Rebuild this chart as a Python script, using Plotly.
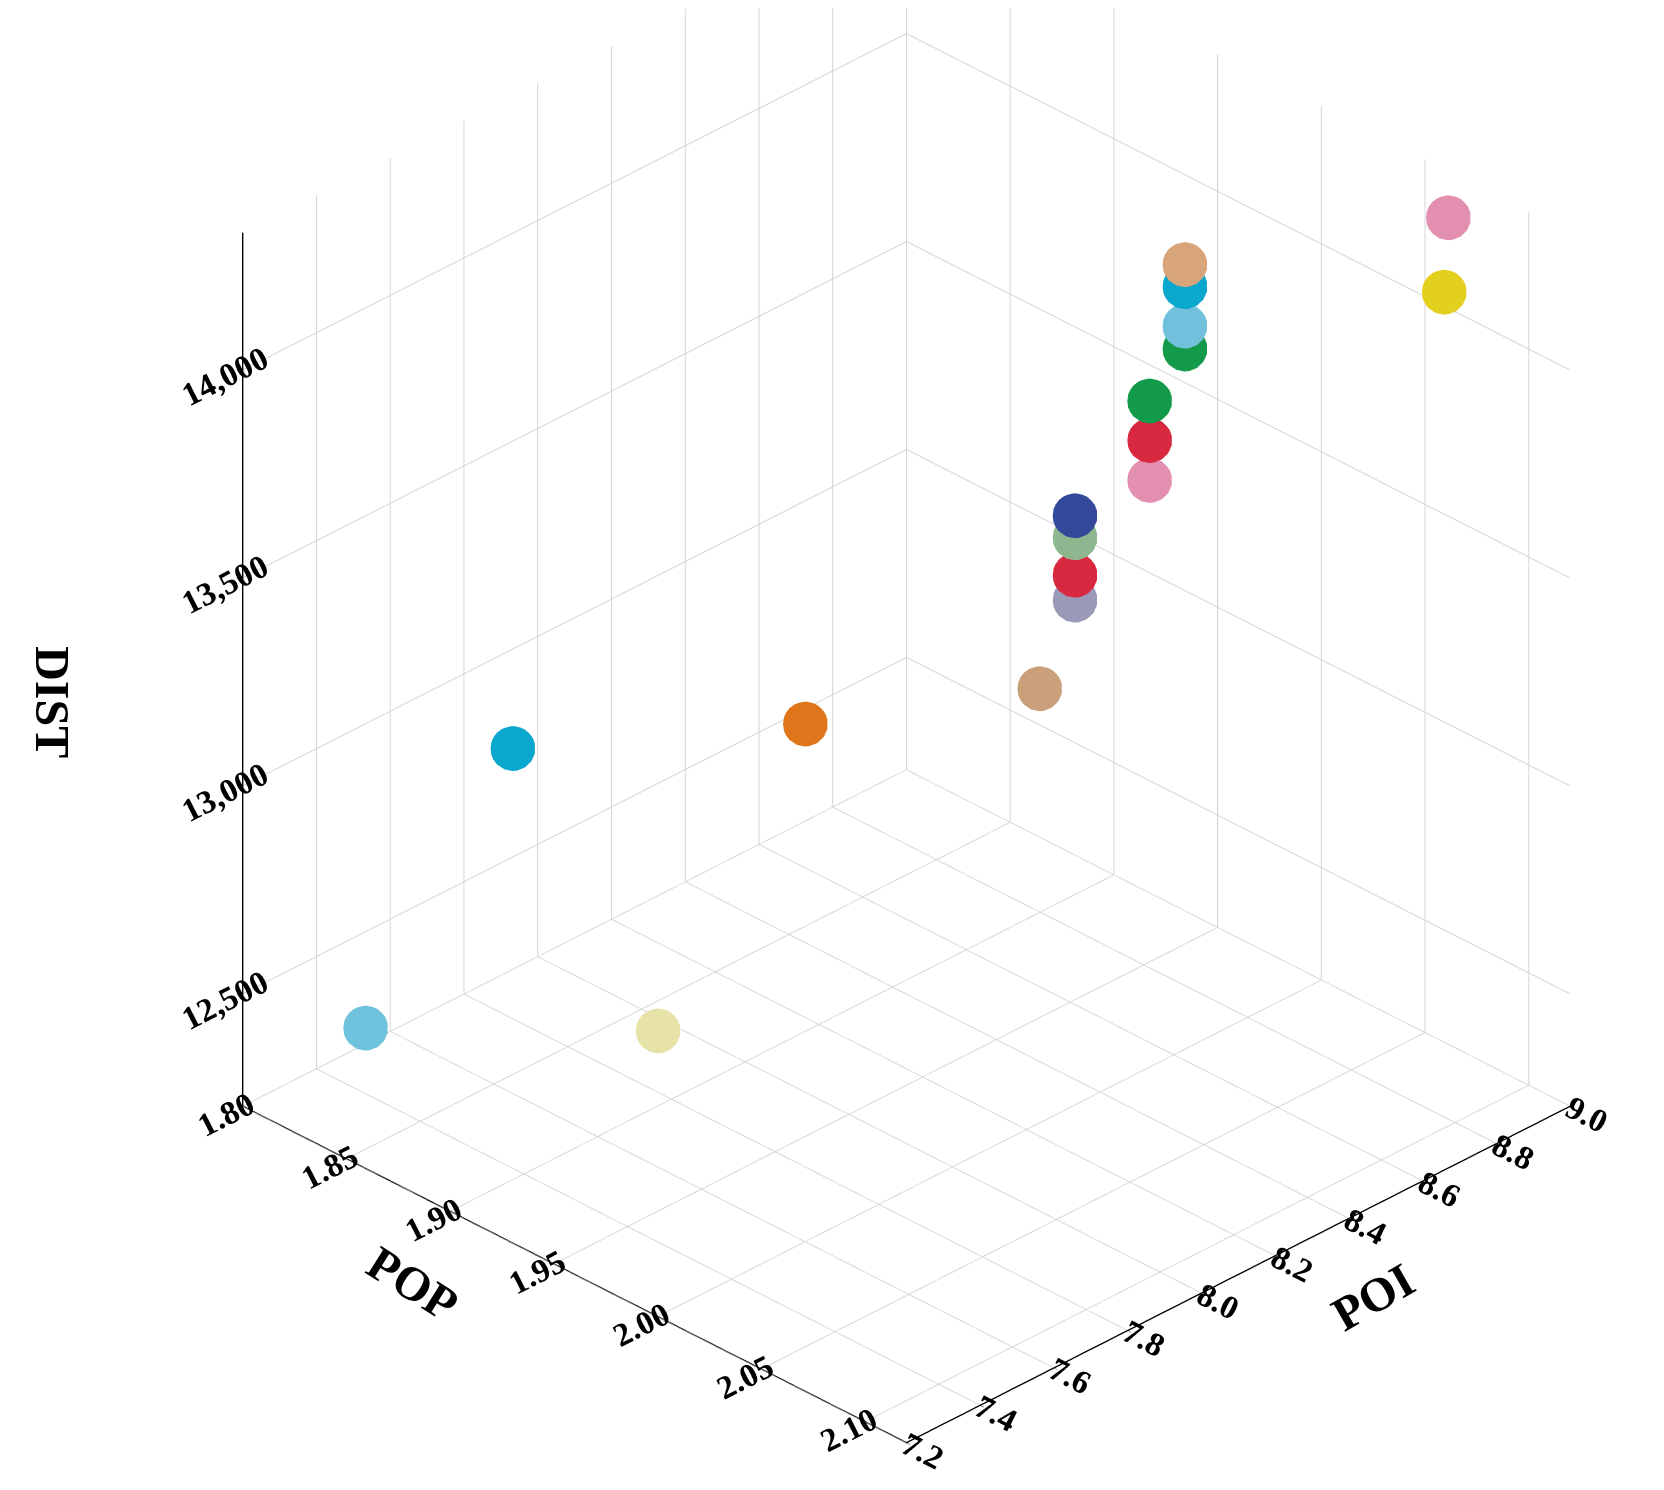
import plotly.graph_objects as go

pop = [1.843, 1.936, 1.866, 1.911, 1.960, 1.961, 1.961, 1.961, 1.961, 1.981, 1.981, 1.981, 1.982, 1.982, 1.982, 1.982, 2.075, 2.077]
poi = [7.29, 7.56, 7.56, 8.10, 8.46, 8.55, 8.55, 8.55, 8.55, 8.64, 8.64, 8.64, 8.73, 8.73, 8.73, 8.73, 8.91, 8.91]
dist = [12488, 12595, 13097, 13027, 13074, 13249, 13309, 13399, 13452, 13547, 13643, 13738, 13825, 13880, 13975, 14028, 14116, 14300]
colors = ["#6fc3dc", "#e6e2a8", "#0aa7cf", "#e0761c", "#c9a07a", "#9a9ab8", "#d8283f", "#8fb78f", "#34489a",
          "#e38fb0", "#d8283f", "#139a4a", "#139a4a", "#72c1dc", "#0aa7cf", "#d8a57a", "#e3cf1e", "#e38fb0"]

font = dict(family="Liberation Serif", size=20, color="black", weight="bold")
def ax(rng, dtick, fmt=None):
    d = dict(title=dict(text=""),
             range=rng, dtick=dtick, tickfont=font, showbackground=False, gridcolor="#d0d0d0",
             showline=True, linecolor="black", linewidth=3, ticks="outside", tickcolor="black",
             zeroline=False, showspikes=False)
    if fmt:
        d["tickformat"] = fmt
    return d

fig = go.Figure(go.Scatter3d(
    x=pop, y=poi, z=dist, mode="markers",
    marker=dict(size=26, color=colors, line=dict(width=0), opacity=1)))
tf = dict(family="Liberation Serif", size=48, color="black")
fig.update_layout(
    width=1664, height=1490, paper_bgcolor="white", margin=dict(l=0, r=0, t=0, b=0),
    showlegend=False,
    annotations=[
        dict(text="<b>POP</b>", x=0.209, y=0.11, xref="paper", yref="paper", showarrow=False, textangle=32, font=tf),
        dict(text="<b>POI</b>", x=0.852, y=0.104, xref="paper", yref="paper", showarrow=False, textangle=-30, font=tf),
        dict(text="<b>DIST</b>", x=0.01, y=0.534, xref="paper", yref="paper", showarrow=False, textangle=90, font=tf),
    ],
    scene=dict(
        domain=dict(x=[0.08, 1], y=[0, 1]),
        xaxis=ax([1.80, 2.12], 0.05, ".2f"),
        yaxis=ax([7.2, 9.0], 0.2, ".1f"),
        zaxis=ax([12230, 14330], 500, ",d"),
        aspectmode="manual", aspectratio=dict(x=1.26, y=1.26, z=1.36),
        camera=dict(eye=dict(x=1.07, y=-1.07, z=0.76), center=dict(x=0, y=0, z=-0.13),
                    projection=dict(type="orthographic")),
    ))
fig.write_html("out.html")
